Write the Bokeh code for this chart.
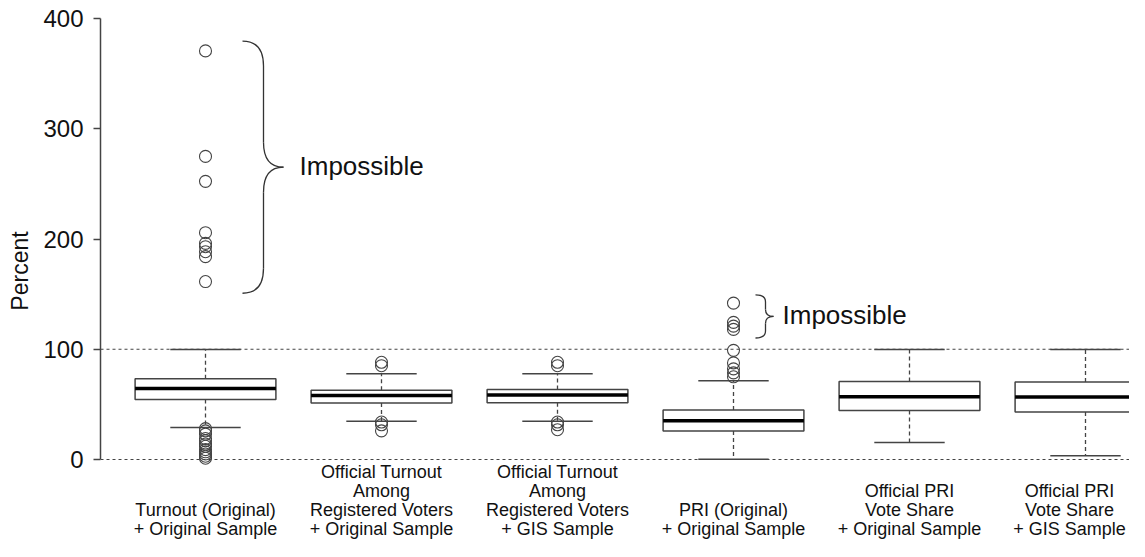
import numpy as np
from bokeh.plotting import figure
from bokeh.models import Range1d, FixedTicker, Span
from bokeh.core.properties import value
from bokeh.embed import file_html
from bokeh.resources import INLINE

# ---------------- data ----------------
categories = [
    "Turnout (Original)\n+ Original Sample",
    "Official Turnout\nAmong\nRegistered Voters\n+ Original Sample",
    "Official Turnout\nAmong\nRegistered Voters\n+ GIS Sample",
    "PRI (Original)\n+ Original Sample",
    "Official PRI\nVote Share\n+ Original Sample",
    "Official PRI\nVote Share\n+ GIS Sample",
]
positions = [1, 2, 3, 4, 5, 6]
q1 = [54.5, 51.2, 51.5, 25.9, 44.4, 43.1]
median = [64.4, 58.1, 58.4, 35.2, 57.0, 56.7]
q3 = [73.2, 62.9, 63.5, 44.9, 70.8, 70.2]
whisker_low = [29.0, 34.6, 34.6, 0.3, 15.4, 3.3]
whisker_high = [99.7, 77.7, 77.7, 71.4, 99.8, 99.8]
outliers = [
    [370.6, 274.9, 252.3, 205.7, 196.0, 193.0, 188.5, 184.0, 161.4,
     28.0, 26.0, 23.0, 19.0, 17.0, 14.0, 12.0, 9.0, 7.0, 5.0, 3.0, 1.2],
    [88.2, 85.1, 34.0, 31.5, 26.0],
    [88.2, 85.1, 34.0, 31.5, 27.0],
    [141.8, 124.4, 121.0, 118.0, 99.0, 87.6, 82.2, 78.6, 75.0],
    [],
    [],
]
y_ticks = [0, 100, 200, 300, 400]
ref_lines = [0, 100]

annot_cat = [1, 4]
annot_top = [379.5, 149.3]
annot_bottom = [150.8, 110.2]
annot_text = ["Impossible", "Impossible"]

# ---------------- layout ----------------
W, H = 1129, 541
FRAME_LEFT = 100
PX_X = 176.0
x_start = 1 - 105 / PX_X
x_end = x_start + (W - FRAME_LEFT) / PX_X
PX_Y = 1.1025
Y0_PX = 459          # canvas row of value 0
y_end = Y0_PX / PX_Y
y_start = -(H - Y0_PX) / PX_Y

FONT = "Liberation Sans"
INK = "#111111"
LINE = "#444444"

p = figure(width=W, height=H,
           x_range=Range1d(x_start, x_end), y_range=Range1d(y_start, y_end),
           output_backend="svg", toolbar_location=None, x_axis_location=None,
           min_border_left=FRAME_LEFT, min_border_right=0,
           min_border_top=0, min_border_bottom=0)
p.outline_line_color = None
p.grid.grid_line_color = None
p.background_fill_color = "white"
p.border_fill_color = "white"

ax = p.yaxis[0]
ax.ticker = FixedTicker(ticks=y_ticks)
ax.bounds = (0, 400)
ax.major_tick_out = 7
ax.major_tick_in = 0
ax.minor_tick_out = 0
ax.minor_tick_in = 0
ax.axis_line_color = LINE
ax.axis_line_width = 1.5
ax.major_tick_line_color = LINE
ax.major_tick_line_width = 1.5
ax.major_label_text_font = FONT
ax.major_label_text_font_size = "24px"
ax.major_label_text_color = INK
ax.major_label_standoff = 10
ax.axis_label = "Percent"
ax.axis_label_text_font = FONT
ax.axis_label_text_font_size = "23px"
ax.axis_label_text_font_style = "normal"
ax.axis_label_text_color = INK
ax.axis_label_standoff = 7

for loc in ref_lines:
    p.add_layout(Span(location=loc, dimension="width", line_color=LINE,
                      line_width=1.2, line_dash="3 3", level="underlay"))

pos = np.array(positions, dtype=float)
half_box, half_cap = 0.4, 0.2

# whiskers
p.segment(x0=pos, y0=q3, x1=pos, y1=whisker_high, line_color=LINE,
          line_width=1.3, line_dash="4 3")
p.segment(x0=pos, y0=q1, x1=pos, y1=whisker_low, line_color=LINE,
          line_width=1.3, line_dash="4 3")
# caps
p.segment(x0=pos - half_cap, y0=whisker_high, x1=pos + half_cap, y1=whisker_high,
          line_color=LINE, line_width=1.5)
p.segment(x0=pos - half_cap, y0=whisker_low, x1=pos + half_cap, y1=whisker_low,
          line_color=LINE, line_width=1.5)
# boxes
p.quad(left=pos - half_box, right=pos + half_box, bottom=q1, top=q3,
       fill_color="white", line_color=LINE, line_width=1.5)
# medians
p.segment(x0=pos - half_box, y0=median, x1=pos + half_box, y1=median,
          line_color="black", line_width=3.5)
# outliers
ox, oy = [], []
for xp, vals in zip(positions, outliers):
    ox += [xp] * len(vals)
    oy += vals
p.scatter(x=ox, y=oy, marker="circle", size=12, fill_color=None,
          line_color=LINE, line_width=1.1)

# braces + "Impossible"
left_px = [37, 22]
spine_px = [58, 32]
tip_px = [78, 40]
curve_px = [25, 7]
text_px = [94, 49]
qx0, qy0, qx1, qy1, qcx, qcy = [], [], [], [], [], []
sx0, sy0, sx1, sy1 = [], [], [], []
tx, ty = [], []
for i, c in enumerate(annot_cat):
    xl = c + left_px[i] / PX_X
    xs = c + spine_px[i] / PX_X
    xt = c + tip_px[i] / PX_X
    d = curve_px[i] / PX_Y
    top, bot = annot_top[i], annot_bottom[i]
    mid = (top + bot) / 2
    qx0.append(xl); qy0.append(top); qx1.append(xs); qy1.append(top - d); qcx.append(xs); qcy.append(top)
    qx0.append(xs); qy0.append(mid + d); qx1.append(xt); qy1.append(mid); qcx.append(xs); qcy.append(mid)
    qx0.append(xs); qy0.append(mid - d); qx1.append(xt); qy1.append(mid); qcx.append(xs); qcy.append(mid)
    qx0.append(xs); qy0.append(bot + d); qx1.append(xl); qy1.append(bot); qcx.append(xs); qcy.append(bot)
    sx0 += [xs, xs]; sy0 += [top - d, mid - d]; sx1 += [xs, xs]; sy1 += [mid + d, bot + d]
    tx.append(c + text_px[i] / PX_X); ty.append(mid + 1.5)

p.quadratic(x0=qx0, y0=qy0, x1=qx1, y1=qy1, cx=qcx, cy=qcy,
            line_color="#333333", line_width=1.3)
p.segment(x0=sx0, y0=sy0, x1=sx1, y1=sy1, line_color="#333333", line_width=1.3)
p.text(x=tx, y=ty, text=annot_text, text_align="left", text_baseline="middle",
       text_font=value(FONT), text_font_size="26px", text_color=INK)

# category labels (bottom-aligned multi-line), positioned by line centre
label_shift_px = [0, 0, 0, 0, 0, -16]
label_mid_px = 528        # canvas row of the centre of the last line
line_px = 19
label_base = y_end - label_mid_px / PX_Y
line_step = line_px / PX_Y
lx, ly, lt = [], [], []
for xp, cat, sh in zip(positions, categories, label_shift_px):
    lines = cat.split("\n")
    n = len(lines)
    for j, ln in enumerate(lines):
        lx.append(xp + sh / PX_X)
        ly.append(label_base + (n - 1 - j) * line_step)
        lt.append(ln)
p.text(x=lx, y=ly, text=lt, text_align="center", text_baseline="middle",
       text_font=value(FONT), text_font_size="18px", text_color=INK)

open("out.html", "w").write(file_html(p, INLINE))
